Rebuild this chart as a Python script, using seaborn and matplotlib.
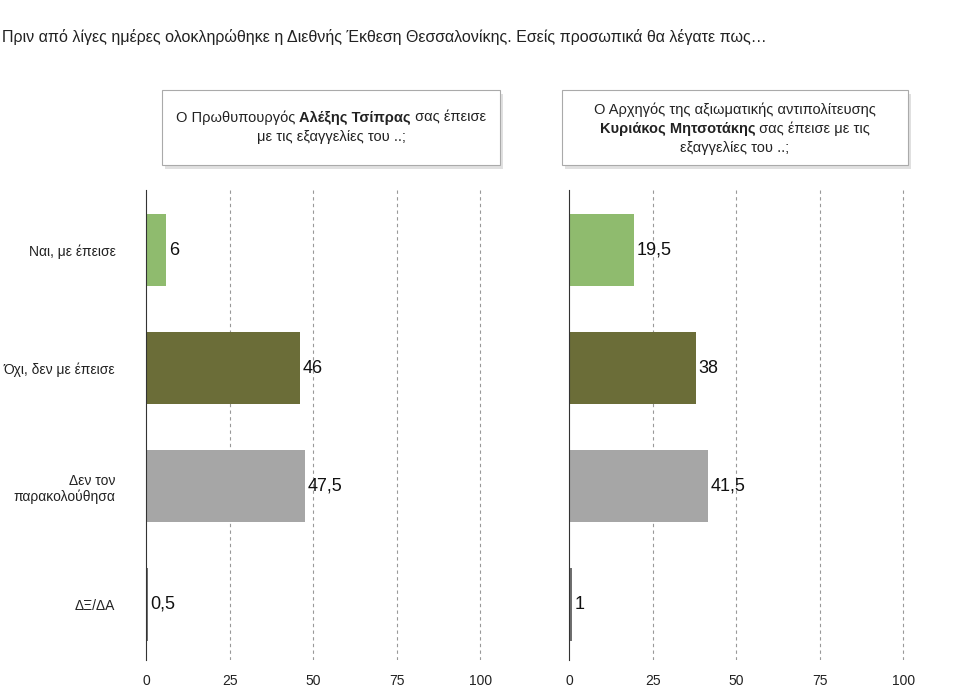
import matplotlib
matplotlib.use("Agg")
import matplotlib.pyplot as plt
import seaborn as sns
import pandas as pd
from matplotlib.patches import Rectangle

categories = ["Ναι, με έπεισε", "Όχι, δεν με έπεισε", "Δεν τον\nπαρακολούθησα", "ΔΞ/ΔΑ"]
tsipras = [6, 46, 47.5, 0.5]
mitsotakis = [19.5, 38, 41.5, 1]
value_labels_left = ["6", "46", "47,5", "0,5"]
value_labels_right = ["19,5", "38", "41,5", "1"]
colors = ["#8fbb6e", "#6b6d38", "#a6a6a6", "#707070"]
xticks = [0, 25, 50, 75, 100]

plt.rcParams["font.family"] = "Liberation Sans"
fig = plt.figure(figsize=(9.6, 6.96), dpi=100)
W, H = 960, 696

def fx(px): return px / W
def fy(py): return 1 - py / H

axL = fig.add_axes([fx(146), fy(660), fx(336), (660 - 190) / H])
axR = fig.add_axes([fx(569), fy(660), fx(336), (660 - 190) / H])

for ax, vals, labs, showy in [(axL, tsipras, value_labels_left, True), (axR, mitsotakis, value_labels_right, False)]:
    df = pd.DataFrame({"cat": categories, "val": vals})
    sns.barplot(data=df, y="cat", x="val", hue="cat", palette=colors, orient="h",
                width=0.61, legend=False, ax=ax, saturation=1)
    ax.set_xlim(0, 100.5)
    ax.set_ylim(3.47, -0.51)
    ax.set_xticks(xticks)
    ax.set_xticklabels([str(t) for t in xticks], fontsize=10, color="#222")
    ax.tick_params(length=0, pad=10)
    ax.set_xlabel(""); ax.set_ylabel("")
    for t in xticks[1:]:
        ax.axvline(t, color="#999", lw=0.8, ls=(0, (3, 3)), zorder=0)
    for s in ["top", "right", "bottom"]:
        ax.spines[s].set_visible(False)
    ax.spines["left"].set_color("#333"); ax.spines["left"].set_linewidth(0.8)
    if showy:
        ax.set_yticks(range(4))
        ax.set_yticklabels(categories, fontsize=10, color="#222")
        ax.tick_params(axis="y", pad=22)
    else:
        ax.set_yticks([])
    for i, (v, l) in enumerate(zip(vals, labs)):
        ax.text(v + 0.8, i, l, va="center", ha="left", fontsize=13, color="#111")

fig.text(fx(2), fy(37), "Πριν από λίγες ημέρες ολοκληρώθηκε η Διεθνής Έκθεση Θεσσαλονίκης. Εσείς προσωπικά θα λέγατε πως…",
         fontsize=11.5, color="#222", va="center")

renderer = fig.canvas.get_renderer()

def centered_line(cx, cy, segs, size=10.5):
    texts = []
    for s, bold in segs:
        texts.append(fig.text(0, fy(cy), s, fontsize=size, fontweight="bold" if bold else "normal",
                              color="#222", va="center"))
    widths = [t.get_window_extent(renderer).width for t in texts]
    x = cx - sum(widths) / 2
    for t, w in zip(texts, widths):
        t.set_x(fx(x)); x += w

def box(x0, y0, x1, y1):
    fig.patches.append(Rectangle((fx(x0) + 0.003, fy(y1) - 0.006), fx(x1 - x0), (y1 - y0) / H,
                                 transform=fig.transFigure, facecolor="#cccccc", edgecolor="none", alpha=0.6))
    fig.patches.append(Rectangle((fx(x0), fy(y1)), fx(x1 - x0), (y1 - y0) / H,
                                 transform=fig.transFigure, facecolor="white", edgecolor="#aaa", lw=0.8))

box(162, 90, 500, 165)
box(562, 90, 908, 165)
centered_line(331, 118, [("Ο Πρωθυπουργός ", False), ("Αλέξης Τσίπρας", True), (" σας έπεισε", False)])
centered_line(331, 137, [("με τις εξαγγελίες του ..;", False)])
centered_line(735, 110, [("Ο Αρχηγός της αξιωματικής αντιπολίτευσης", False)])
centered_line(735, 129, [("Κυριάκος Μητσοτάκης", True), (" σας έπεισε με τις", False)])
centered_line(735, 148, [("εξαγγελίες του ..;", False)])

fig.savefig("out.png", dpi=100, facecolor="white")
